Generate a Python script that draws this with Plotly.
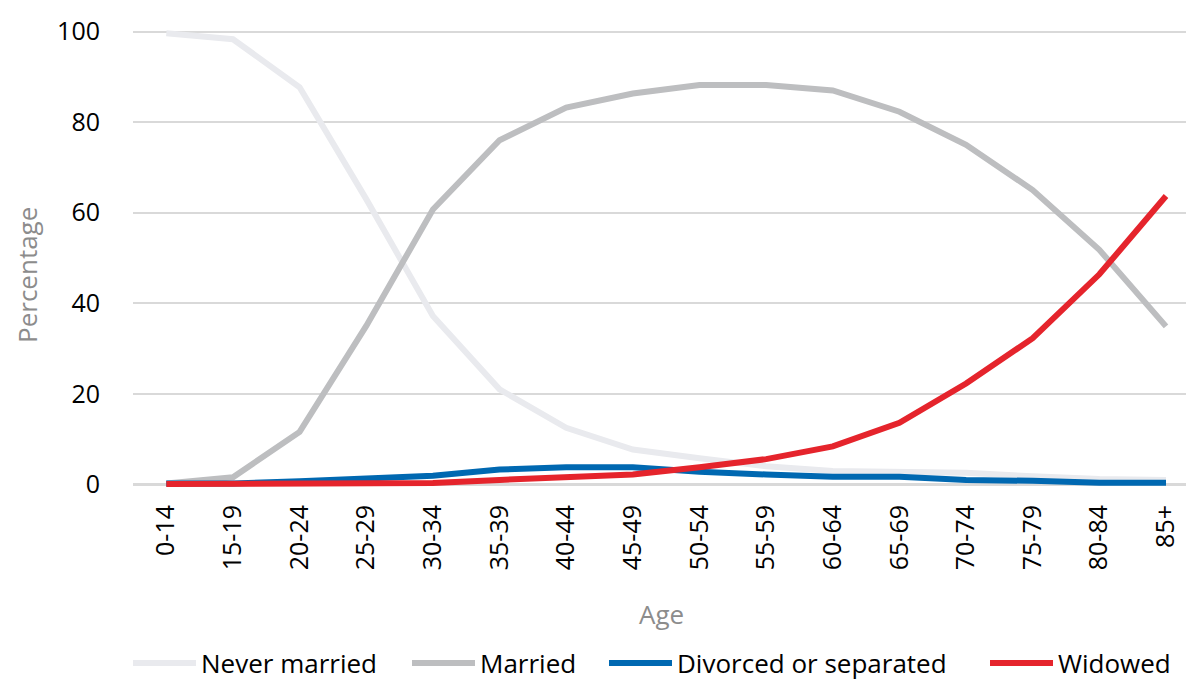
import plotly.graph_objects as go

categories = ["0-14", "15-19", "20-24", "25-29", "30-34", "35-39", "40-44", "45-49",
              "50-54", "55-59", "60-64", "65-69", "70-74", "75-79", "80-84", "85+"]
never_married = [99.6, 98.3, 87.7, 63.0, 37.2, 21.0, 12.5, 7.7, 5.8, 4.0, 3.0, 2.9, 2.6, 1.8, 1.2, 1.0]
married = [0.2, 1.6, 11.6, 35.0, 60.7, 76.0, 83.2, 86.3, 88.2, 88.2, 87.0, 82.3, 75.0, 65.0, 51.8, 34.9]
divorced = [0.2, 0.2, 0.7, 1.2, 1.9, 3.3, 3.8, 3.8, 2.8, 2.2, 1.7, 1.7, 1.0, 0.8, 0.4, 0.4]
widowed = [0.1, 0.1, 0.1, 0.2, 0.3, 1.0, 1.6, 2.2, 3.8, 5.6, 8.4, 13.6, 22.3, 32.3, 46.4, 63.7]

series = [
    ("Never married", never_married, "#E9EAEE", "legend"),
    ("Married", married, "#BDBEC0", "legend2"),
    ("Divorced or separated", divorced, "#0068B1", "legend3"),
    ("Widowed", widowed, "#E5242C", "legend4"),
]

FONT = "Open Sans"
fig = go.Figure()
for name, vals, color, lg in series:
    fig.add_trace(go.Scatter(x=categories, y=vals, name=name, mode="lines",
                             line=dict(color=color, width=6), legend=lg))

plot_l, plot_r = 133, 1186
plot_t, plot_b = 26.5, 489.5
pw = plot_r - plot_l
ph = plot_b - plot_t

def px_to_paper_x(px):
    return (px - plot_l) / pw

def py_to_paper_y(py):
    return (plot_b - py) / ph

text_starts = [203, 482, 679, 1060]
legend_common = dict(orientation="h", yanchor="middle", xanchor="left",
                     font=dict(family=FONT, size=26, color="#000000"),
                     bgcolor="rgba(0,0,0,0)", itemwidth=30, borderwidth=0)
legend_y = py_to_paper_y(664)
layout_legends = {}
shapes = []
for i, ts in enumerate(text_starts):
    key = "legend" if i == 0 else f"legend{i+1}"
    layout_legends[key] = dict(legend_common, x=px_to_paper_x(ts - 42), y=legend_y)
    # longer legend key line, matching the reference swatch length
    shapes.append(dict(type="line", xref="paper", yref="paper",
                       x0=px_to_paper_x(ts - 70), x1=px_to_paper_x(ts - 9),
                       y0=py_to_paper_y(664), y1=py_to_paper_y(664),
                       line=dict(color=series[i][2], width=6)))

fig.update_layout(
    width=1186, height=680,
    margin=dict(l=plot_l, r=1186 - plot_r, t=plot_t, b=680 - plot_b, autoexpand=False),
    paper_bgcolor="white", plot_bgcolor="white",
    font=dict(family=FONT, size=25, color="#000000"),
    showlegend=True,
    **layout_legends,
    shapes=shapes,
    xaxis=dict(type="category", range=[-0.5, 15.3], showgrid=False, zeroline=False,
               showline=False, tickangle=-90, ticks="", ticklabelstandoff=10,
               automargin=False,
               tickfont=dict(family=FONT, size=25, color="#000000")),
    yaxis=dict(range=[-1, 101], tickvals=[0, 20, 40, 60, 80, 100],
               showgrid=True, gridcolor="#D9D9D9", gridwidth=1.5,
               zeroline=True, zerolinecolor="#D9D9D9", zerolinewidth=3,
               showline=False, ticks="", ticklabelstandoff=32, automargin=False,
               tickfont=dict(family=FONT, size=25, color="#000000")),
    annotations=[
        dict(text="Percentage", textangle=-90, xref="paper", yref="paper",
             x=px_to_paper_x(27), y=py_to_paper_y(275), xanchor="center", yanchor="middle",
             showarrow=False, font=dict(family=FONT, size=26, color="#8C8C8C")),
        dict(text="Age", xref="paper", yref="paper",
             x=px_to_paper_x(661), y=py_to_paper_y(615), xanchor="center", yanchor="middle",
             showarrow=False, font=dict(family=FONT, size=26, color="#8C8C8C")),
    ],
)

fig.write_html("out.html", config={"displayModeBar": False},
               post_script="document.body.style.margin='0';document.body.style.padding='0';")
